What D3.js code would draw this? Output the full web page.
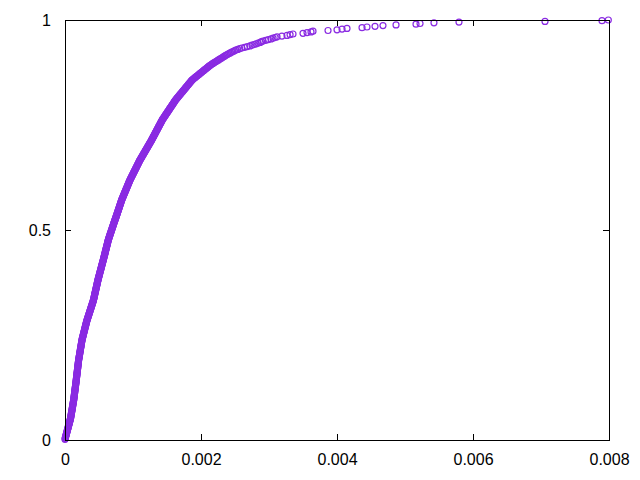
<!DOCTYPE html>
<html><head><meta charset="utf-8">
<script src="https://cdn.jsdelivr.net/npm/d3@7"></script>
<style>body{margin:0;background:#fff}svg{display:block}</style>
</head><body>
<svg id="c" width="640" height="480"></svg>
<script>
// sorted sample values (microseconds)
const samplesUs = [
0,2,5,8,10,13,16,19,21,24,27,30,33,35,38,41,44,46,49,52,55,57,60,63,66,68,71,74,77,
80,82,84,85,87,89,91,92,94,96,98,100,101,103,105,107,108,110,112,114,115,117,119,121,122,124,126,128,
129,130,132,133,134,136,137,138,140,141,142,144,145,146,148,149,150,152,153,154,156,157,158,160,161,162,164,165,166,
167,168,170,171,172,173,175,176,177,178,179,181,182,183,184,186,187,188,189,190,192,193,194,195,197,198,199,200,
202,204,206,207,209,211,213,214,216,218,219,221,223,225,226,228,230,231,233,235,237,238,240,242,243,245,247,249,250,
253,255,258,261,263,266,268,271,273,276,279,281,284,286,289,292,294,297,299,302,305,307,310,312,315,318,320,323,
327,330,333,337,340,343,347,350,353,357,360,363,367,370,373,377,380,383,386,390,393,396,400,403,406,410,413,416,419,
421,424,426,428,431,433,435,437,440,442,444,447,449,451,454,456,458,461,463,465,468,470,472,474,477,479,481,484,486,
489,491,494,497,500,502,505,508,510,513,516,519,521,524,527,530,532,535,538,540,543,546,549,551,554,557,560,563,
565,568,570,573,576,578,581,583,586,589,591,594,596,599,601,604,607,609,612,614,617,620,622,625,627,630,632,635,638,
641,644,648,651,655,658,661,665,668,672,675,679,682,686,689,692,696,699,703,706,710,713,716,720,723,727,730,734,
738,741,745,748,752,755,759,762,766,769,772,776,779,783,786,790,793,797,800,803,807,810,814,817,821,824,827,831,834,
838,843,847,851,855,860,864,868,872,877,881,885,889,894,898,902,907,911,915,919,924,928,932,936,941,945,949,953,
959,964,969,974,979,984,989,995,1000,1005,1010,1015,1020,1025,1031,1036,1041,1046,1051,1056,1061,1067,1072,1077,1082,1087,1092,1097,1103,
1109,1115,1121,1127,1133,1139,1145,1151,1157,1163,1169,1175,1181,1187,1193,1199,1205,1211,1217,1223,1229,1235,1241,1247,1253,1259,1265,1271,
1276,1282,1287,1293,1298,1304,1309,1315,1320,1325,1331,1336,1342,1347,1353,1358,1364,1369,1374,1380,1385,1391,1396,1402,1407,1413,1418,1424,1429,
1435,1442,1449,1456,1463,1470,1476,1483,1490,1497,1504,1511,1518,1525,1532,1538,1545,1552,1559,1566,1573,1580,1587,1594,1600,1607,1614,1621,1628,
1636,1645,1653,1662,1670,1679,1687,1696,1704,1713,1722,1730,1739,1747,1756,1764,1773,1781,1790,1798,1807,1815,1824,1832,1841,1849,1858,1866,
1877,1890,1902,1915,1928,1940,1953,1966,1978,1991,2004,2016,2029,2042,2054,2067,2080,2092,2105,2118,2130,2146,
2160,2176,2193,2209,2225,2242,2258,2275,2291,2307,2324,2340,2357,2373,
2390,2410,2430,2450,2470,2490,2510,2540,2570,2600,2640,2680,2720,
2750,2780,2810,2840,2870,2890,2912,
2950,2990,3030,3060,3090,3118,3190,3265,3310,3353,3500,3559,3618,3647,3868,4000,4074,4147,4368,4441,4559,4676,4868,5162,5221,5426,5794,7059,7897,7990
];
const xTicks = [0, 0.002, 0.004, 0.006, 0.008];
const xTickLabels = ["0", "0.002", "0.004", "0.006", "0.008"];
const yTicks = [0, 0.5, 1];
const yTickLabels = ["0", "0.5", "1"];

const N = samplesUs.length;
const points = samplesUs.map((v, i) => ({x: v / 1e6, y: (i + 1) / N}));

const svg = d3.select("#c");
const L = 65, R = 609, T = 20, B = 440;
const x = d3.scaleLinear().domain([0, 0.008]).range([L, R]);
const y = d3.scaleLinear().domain([0, 1]).range([B, T]);
const font = "'Liberation Sans', Arial, sans-serif";
const tl = 6;

const gx = svg.append("g").attr("transform", `translate(0,${B})`)
  .call(d3.axisBottom(x).tickValues(xTicks).tickSizeInner(-tl).tickSizeOuter(0).tickPadding(14)
    .tickFormat((d, i) => xTickLabels[i]));
const gxt = svg.append("g").attr("transform", `translate(0,${T})`)
  .call(d3.axisTop(x).tickValues(xTicks).tickSizeInner(-tl).tickSizeOuter(0).tickFormat(""));
const gy = svg.append("g").attr("transform", `translate(${L},0)`)
  .call(d3.axisLeft(y).tickValues(yTicks).tickSizeInner(-tl).tickSizeOuter(0).tickPadding(14)
    .tickFormat((d, i) => yTickLabels[i]));
const gyr = svg.append("g").attr("transform", `translate(${R},0)`)
  .call(d3.axisRight(y).tickValues(yTicks).tickSizeInner(-tl).tickSizeOuter(0).tickFormat(""));
[gx, gxt, gy, gyr].forEach(g => {
  g.select(".domain").remove();
  g.selectAll("line").attr("stroke", "#000").attr("stroke-width", 1);
  g.selectAll("text").attr("font-family", font).attr("font-size", 16).attr("fill", "#000");
});

svg.append("g").selectAll("circle").data(points).join("circle")
  .attr("cx", d => x(d.x)).attr("cy", d => y(d.y)).attr("r", 3)
  .attr("fill", "none").attr("stroke", "#8a2be2").attr("stroke-width", 1.2);

svg.append("rect").attr("x", L + 0.5).attr("y", T + 0.5).attr("width", R - L).attr("height", B - T)
  .attr("fill", "none").attr("stroke", "#000").attr("stroke-width", 1);
</script>
</body></html>
